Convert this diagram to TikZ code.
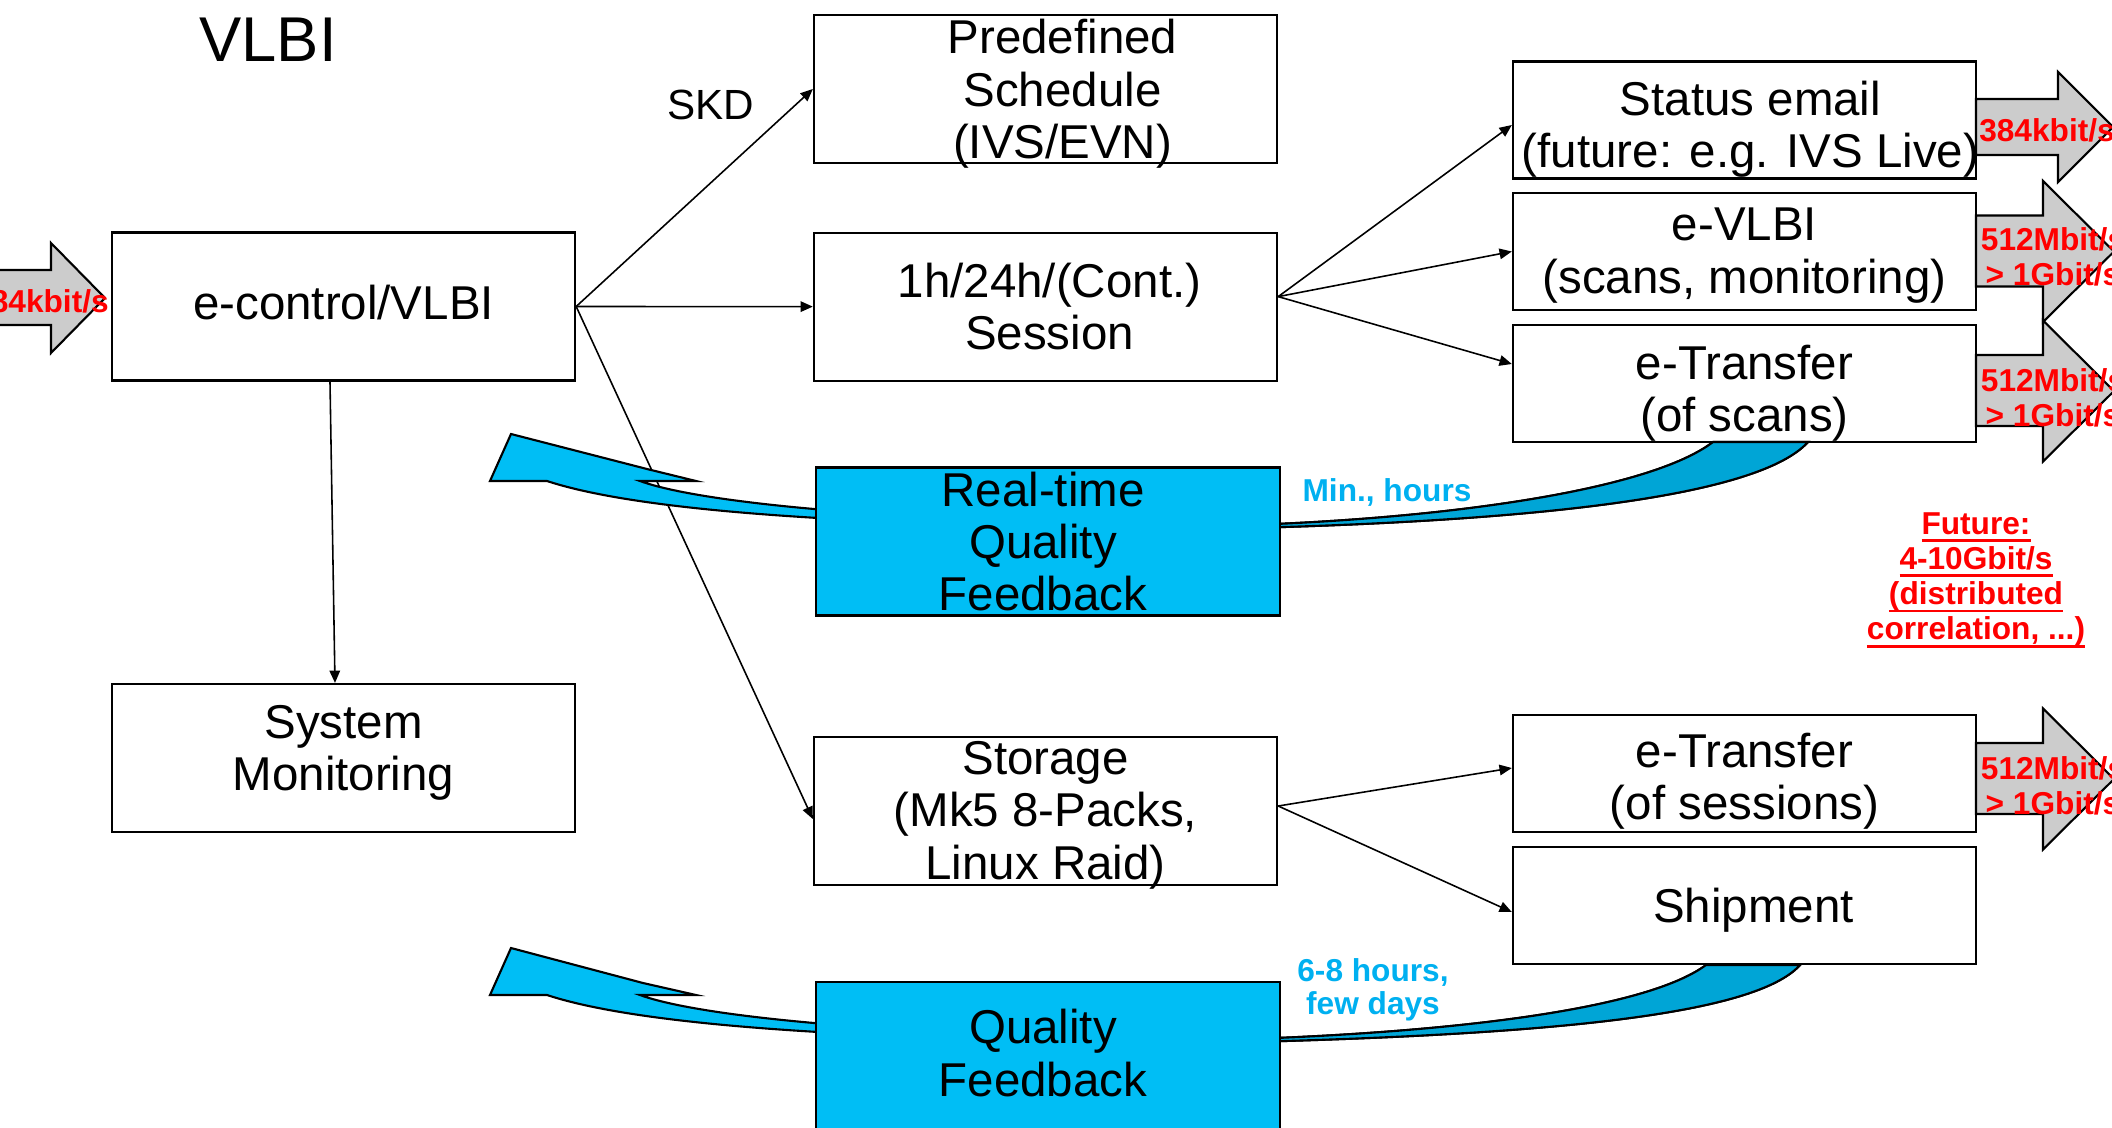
\documentclass[tikz,border=0pt]{standalone}
\usepackage{fontspec}
\setmainfont{Liberation Sans}
\usetikzlibrary{arrows.meta,positioning,calc}
\definecolor{fblight}{RGB}{0,190,245}
\definecolor{fbdark}{RGB}{0,165,214}
\definecolor{fbtext}{RGB}{0,176,240}
\definecolor{arrgrey}{RGB}{204,204,204}
\newcommand{\boxfont}{\fontsize{13.5}{14.9}\selectfont}
\newcommand{\ratefont}{\fontsize{9}{10}\selectfont\bfseries}
\newcommand{\thickul}[1]{\setbox0\hbox{#1}\rlap{\rule[-2.2pt]{\wd0}{0.8pt}}\box0}

\begin{document}
\begin{tikzpicture}[x=0.01cm, y=-0.01cm, >={Triangle[length=3.5pt,width=3pt]},
  box/.style={draw, line width=0.6pt, minimum width=4.63cm, minimum height=1.48cm, inner sep=0pt},
  smallbox/.style={box, minimum height=1.17cm},
  fbbox/.style={box, fill=fblight},
  boxtext/.style={align=center, font=\boxfont, inner sep=0pt},
  conn/.style={line width=0.45pt},
  rate/.style={text=red, align=center, font=\ratefont, inner sep=0pt},
  fblabel/.style={text=fbtext, align=center, font=\fontsize{9}{9.4}\selectfont\bfseries, inner sep=0pt},
  bigarrow/.style={draw, line width=0.6pt, fill=arrgrey},
  fbarrow/.style={draw, line width=0.6pt, fill=fblight}]
  \useasboundingbox (0,0) rectangle (2112,1127);

  % Title and left input arrow
  \node[font=\fontsize{18}{20}\selectfont] (title) at (268,40) {VLBI};
  \draw[bigarrow] (-20,270) -- (51,270) -- (51,243) -- (105,298) -- (51,353) -- (51,325) -- (-20,325) -- cycle;
  \node[rate] (rin) at (41,301) {384kbit/s};

  % Plain boxes
  \node[box, label={[boxtext, yshift=0.04cm]center:e-control/VLBI}] (ectrl) at (343.5,306.5) {};
  \node[box, label={[boxtext, yshift=0.05cm]center:{System\\Monitoring}}] (sysmon) at (343.5,758) {};
  \node[box, label={[boxtext, xshift=0.17cm, yshift=-0.05cm]center:{Predefined\\Schedule\\(IVS/EVN)}}] (sched) at (1045.5,89) {};
  \node[box, label={[boxtext, xshift=0.04cm]center:{1h/24h/(Cont.)\\Session}}] (sess) [below=2.175cm of sched.center, anchor=center] {};
  \node[box, label={[boxtext, yshift=-0.04cm]center:{Storage\\(Mk5 8-Packs,\\Linux Raid)}}] (stor) at (1045.5,811) {};
  \node[smallbox, label={[boxtext, xshift=0.06cm, yshift=-0.09cm]center:{Status email\\(future: e.g. IVS Live)}}] (stat) at (1744.5,120) {};
  \node[smallbox, label={[boxtext, yshift=-0.04cm]center:{e-VLBI\\(scans, monitoring)}}] (evlbi) at (1744.5,251.5) {};
  \node[smallbox, label={[boxtext, yshift=-0.1cm]center:{e-Transfer\\(of scans)}}] (etscan) at (1744.5,383.5) {};
  \node[smallbox, label={[boxtext, yshift=-0.08cm]center:{e-Transfer\\(of sessions)}}] (etsess) at (1744.5,773.5) {};
  \node[smallbox, label={[boxtext, xshift=0.09cm, yshift=-0.05cm]center:Shipment}] (ship) at (1744.5,905.5) {};

  % Data flow
  \path[->, conn]
    (ectrl.east) edge (sched.west)
    (ectrl.east) edge (sess.west)
    (ectrl.east) edge ([yshift=-0.08cm]stor.west)
    ([xshift=-0.135cm]ectrl.south) edge ([xshift=-0.085cm]sysmon.north)
    ([yshift=0.1cm]sess.east) edge ([yshift=-0.05cm]stat.west)
    ([yshift=0.1cm]sess.east) edge (evlbi.west)
    ([yshift=0.1cm]sess.east) edge ([yshift=0.195cm]etscan.west)
    ([yshift=0.05cm]stor.east) edge ([yshift=0.055cm]etsess.west)
    ([yshift=0.05cm]stor.east) edge ([yshift=-0.065cm]ship.west);
  \node[font=\fontsize{12}{14}\selectfont] (skd) at (711,105) {SKD};

  % Feedback arrows (drawn before the blue boxes)
  \draw[fbarrow] (511,434) -- (647,469) -- (696,481) -- (640,481)
    .. controls (700,503) and (900,524) .. (1250,525)
    .. controls (1450,518) and (1650,490) .. (1713,442) -- (1808,442)
    .. controls (1760,495) and (1550,520) .. (1250,528)
    .. controls (900,528) and (650,515) .. (547,481) -- (490,481) -- cycle;
  \draw[fbarrow, fill=fbdark] (1250,525) .. controls (1450,518) and (1650,490) .. (1713,442) -- (1808,442)
    .. controls (1760,495) and (1550,520) .. (1250,528) -- cycle;
  \draw[fbarrow] (511,948) -- (643,983) -- (696,995) -- (640,995)
    .. controls (700,1017) and (900,1038) .. (1250,1039)
    .. controls (1450,1032) and (1645,1010) .. (1706,965) -- (1800,965)
    .. controls (1755,1015) and (1550,1034) .. (1250,1042)
    .. controls (900,1042) and (650,1029) .. (547,995) -- (490,995) -- cycle;
  \draw[fbarrow, fill=fbdark] (1250,1039) .. controls (1450,1032) and (1645,1010) .. (1706,965) -- (1800,965)
    .. controls (1755,1015) and (1550,1034) .. (1250,1042) -- cycle;

  % Blue feedback boxes
  \node[fbbox, label={[boxtext, xshift=-0.05cm]center:{Real-time\\Quality\\Feedback}}] (rtqf) at (1048,541.5) {};
  \node[fbbox, label={[boxtext, xshift=-0.05cm, yshift=0.03cm]center:{Quality\\Feedback}}] (qf) at (1048,1056) {};
  \node[fblabel] (tmin) at (1387,492) {Min., hours};
  \node[fblabel] (tdays) at (1373,990) {6-8 hours,\\few days};

  % Output rates
  \draw[bigarrow] (1976,99) -- (2058,99) -- (2058,72) -- (2113,127) -- (2058,182) -- (2058,155) -- (1976,155) -- cycle;
  \foreach \yc in {251.5,391,779}
    \draw[bigarrow] (1976,{\yc-36}) -- (2043,{\yc-36}) -- (2043,{\yc-70.5}) -- (2114,\yc)
      -- (2043,{\yc+70.5}) -- (2043,{\yc+35}) -- (1976,{\yc+35}) -- cycle;
  \node[rate] (rstat) at (2047,130) {384kbit/s};
  \node[rate] (revlbi) at (2053,257) {512Mbit/s\\> 1Gbit/s};
  \node[rate] (rscan) at (2053,398) {512Mbit/s\\> 1Gbit/s};
  \node[rate] (rsess) at (2053,786) {512Mbit/s\\> 1Gbit/s};
  \node[rate] (future) at (1976,580)
    {\thickul{Future:}\\\thickul{4-10Gbit/s}\\\thickul{(distributed}\\\thickul{correlation, ...)}};
\end{tikzpicture}
\end{document}
